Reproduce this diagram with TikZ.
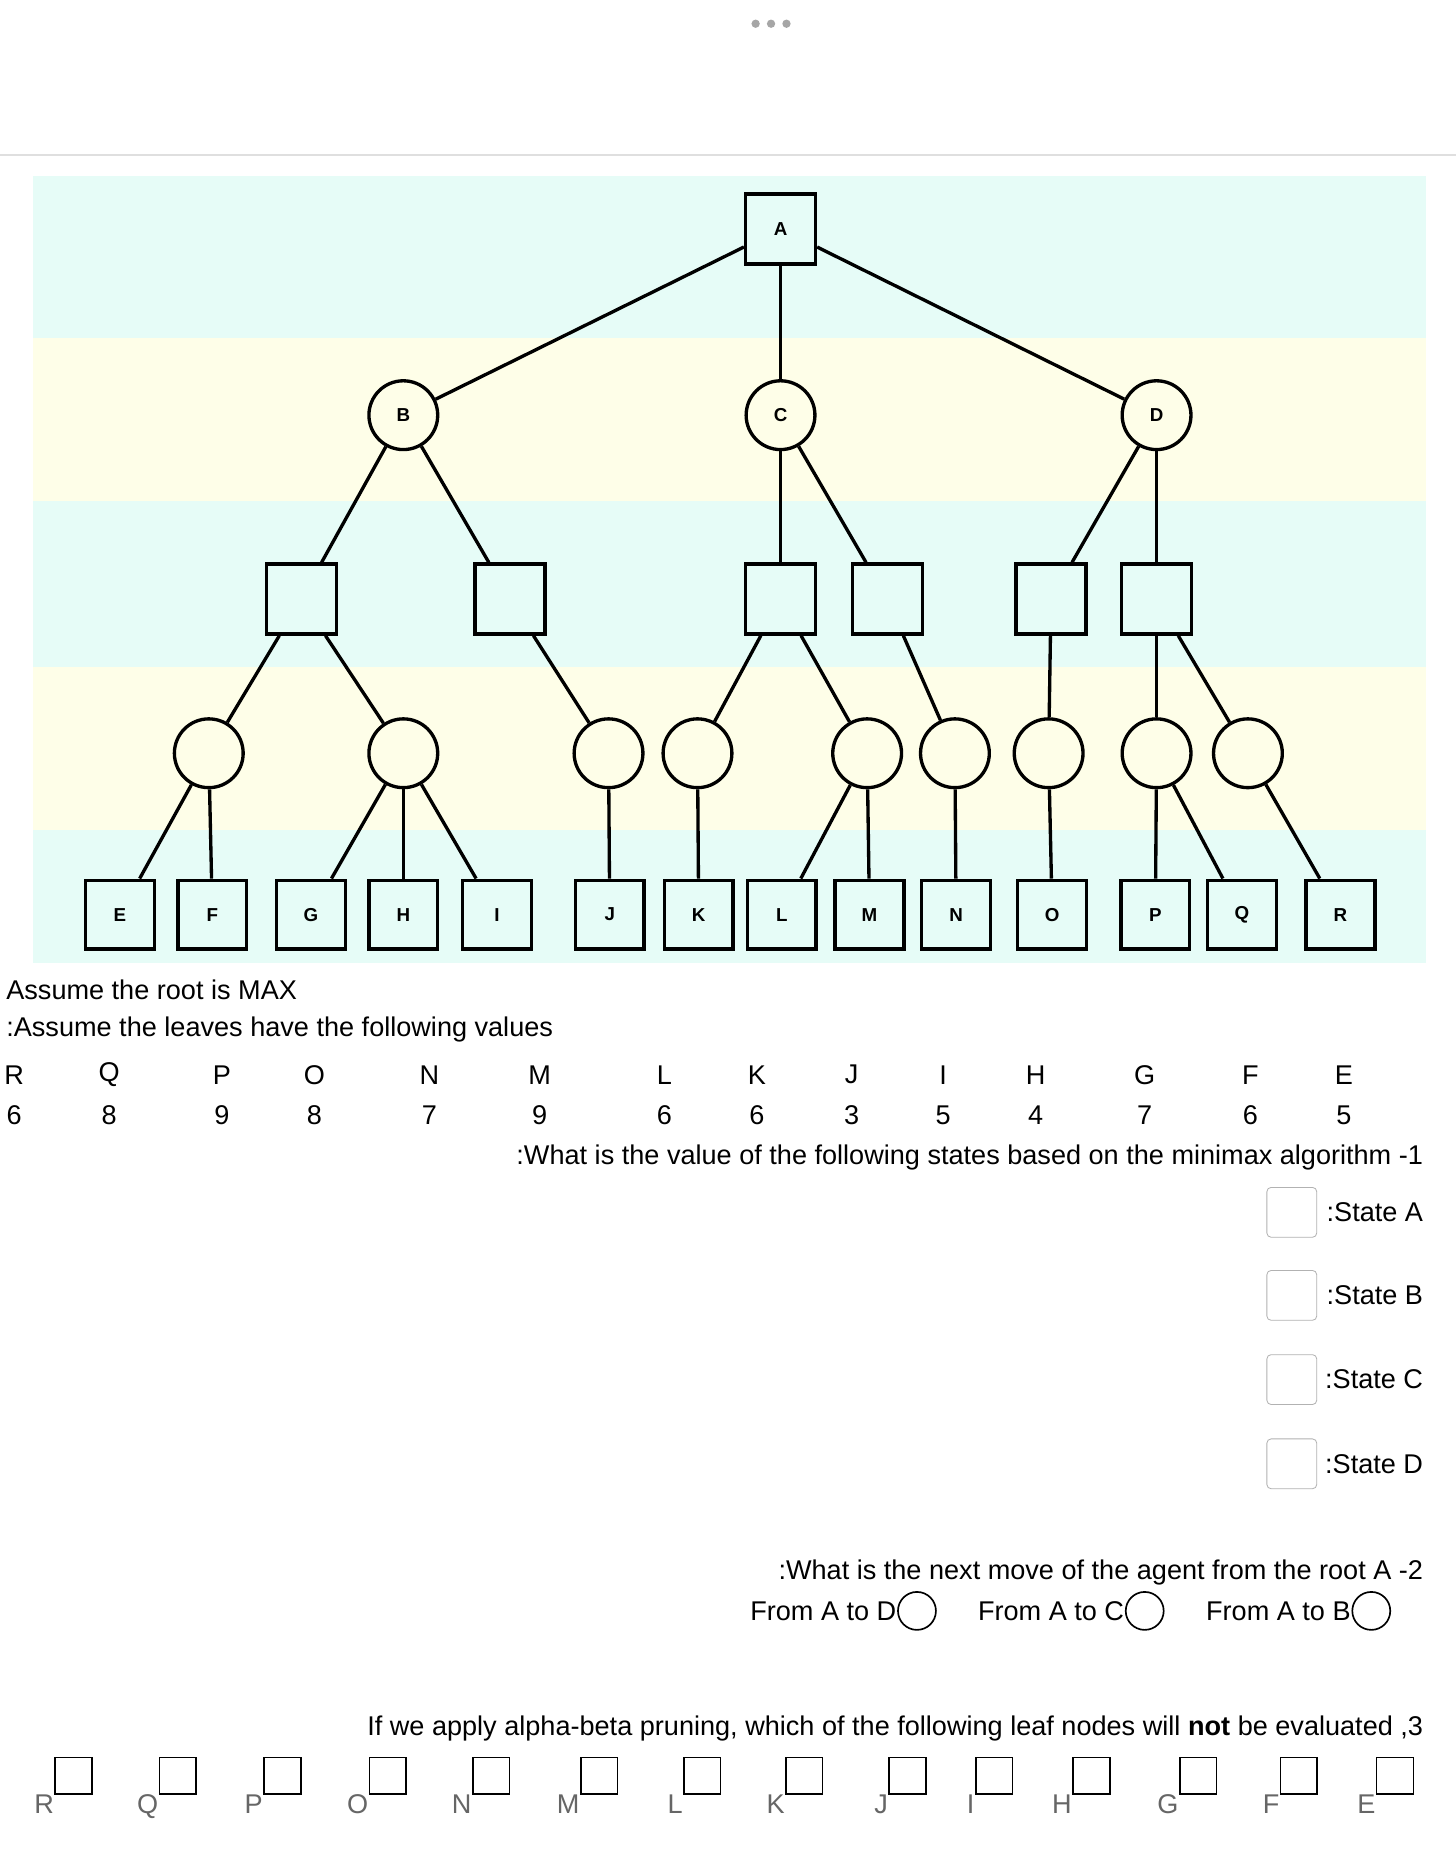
\documentclass[tikz,border=0pt]{standalone}
\usepackage{fontspec}
\setmainfont{Liberation Sans}
\usetikzlibrary{positioning, shapes.geometric, arrows.meta}
\definecolor{bandc}{HTML}{E6FCF7}
\definecolor{bandy}{HTML}{FEFEE8}
\tikzset{
  maxn/.style={draw, line width=1.6pt, minimum size=1.18cm, inner sep=0pt, font=\bfseries\small},
  minn/.style={draw, circle, line width=1.6pt, minimum size=1.16cm, inner sep=0pt, font=\bfseries\small},
  leaf/.style={draw, line width=1.6pt, minimum size=1.16cm, inner sep=0pt, font=\bfseries\small},
  edge/.style={line width=1.6pt},
  txt/.style={font=\fontsize{13}{15}\selectfont, inner sep=0pt},
  ans/.style={draw=gray!60, rounded corners=2pt, minimum size=0.84cm, inner sep=0pt},
  pick/.style={draw, line width=0.8pt, minimum size=0.62cm, inner sep=0pt},
  opt/.style={draw, circle, line width=0.8pt, minimum size=0.64cm, inner sep=0pt}
}
\begin{document}
\begin{tikzpicture}[x=0.02cm, y=-0.02cm]
\useasboundingbox (0,0) rectangle (1227,1568);
\fill[white] (0,0) rectangle (1227,1568);

%top
\foreach \x in {637,650,663} \fill[gray!70] (\x,20) circle (3.5);
\draw[gray!25, line width=1pt] (0,131) -- (1227,131);

%bands
\fill[bandc] (28,148) rectangle (1202,285);
\fill[bandy] (28,285) rectangle (1202,422);
\fill[bandc] (28,422) rectangle (1202,562);
\fill[bandy] (28,562) rectangle (1202,700);
\fill[bandc] (28,700) rectangle (1202,812);

%tree nodes
\node[maxn] (A) at (658,193) {A};
\node[minn] (B) at (340,350) {B};
\node[minn] (C) at (658,350) {C};
\node[minn] (D) at (975,350) {D};
\node[maxn] (s1) at (254,505) {};
\node[maxn] (s2) at (430,505) {};
\node[maxn] (s3) at (658,505) {};
\node[maxn] (s4) at (748,505) {};
\node[maxn] (s5) at (886,505) {};
\node[maxn] (s6) at (975,505) {};
\foreach \n/\x in {c1/176, c2/340, c3/513, c4/588, c5/731, c6/805, c7/884, c8/975, c9/1052}
  \node[minn] (\n) at (\x,635) {};
\foreach \n/\x in {E/101, F/179, G/262, H/340, I/419, J/514, K/589, L/659, M/733, N/806, O/887, P/974, Q/1047, R/1130}
  \node[leaf] (\n) at (\x,771) {\n};

%connections
\foreach \a/\b in {A/B, A/C, A/D, B/s1, B/s2, C/s3, C/s4, D/s5, D/s6,
  s1/c1, s1/c2, s2/c3, s3/c4, s3/c5, s4/c6, s5/c7, s6/c8, s6/c9,
  c1/E, c1/F, c2/G, c2/H, c2/I, c3/J, c4/K, c5/L, c5/M, c6/N, c7/O, c8/P, c8/Q, c9/R}
  \draw[edge] (\a) -- (\b);

%text
\node[txt, anchor=west] (t1) at (5,834) {Assume the root is MAX};
\node[txt, anchor=west] (t2) at (5,868) {:Assume the leaves have the following values};
\foreach \l/\v/\x in {R/6/12, Q/8/92, P/9/187, O/8/265, N/7/362, M/9/455, L/6/560, K/6/638, J/3/718, I/5/795, H/4/873, G/7/965, F/6/1054, E/5/1133} {
  \node[txt] (l\l) at (\x,906) {\l};
  \node[txt] (v\l) at (\x,940) {\v};
}
\node[txt, anchor=east] (q1) at (1200,976) {:What is the value of the following states based on the minimax algorithm -1};
\foreach \s/\y in {A/1022, B/1092, C/1163, D/1234} {
  \node[ans] (b\s) at (1089,\y) {};
  \node[txt, anchor=east] (st\s) at (1200,\y) {:State \s};
}
\node[txt, anchor=east] (q2) at (1200,1326) {:What is the next move of the agent from the root A -2};
\foreach \s/\x in {D/773, C/965, B/1156} {
  \node[opt] (o\s) at (\x,1358) {};
  \node[txt, anchor=east] (m\s) at ([xshift=-0.2]o\s.west) {From A to \s};
}
\node[txt, anchor=east] (q3) at (1200,1457) {If we apply alpha-beta pruning, which of the following leaf nodes will \textbf{not} be evaluated ,3};
\foreach \l/\x in {R/62, Q/150, P/238, O/327, N/414, M/505, L/592, K/678, J/765, I/838, H/920, G/1010, F/1095, E/1176} {
  \node[pick] (p\l) at (\x,1497) {};
  \node[txt, anchor=base east, font=\fontsize{13}{15}\selectfont\color{gray!80!black}] (pl\l) at ([yshift=-9]p\l.south west) {\l};
}
\end{tikzpicture}
\end{document}
